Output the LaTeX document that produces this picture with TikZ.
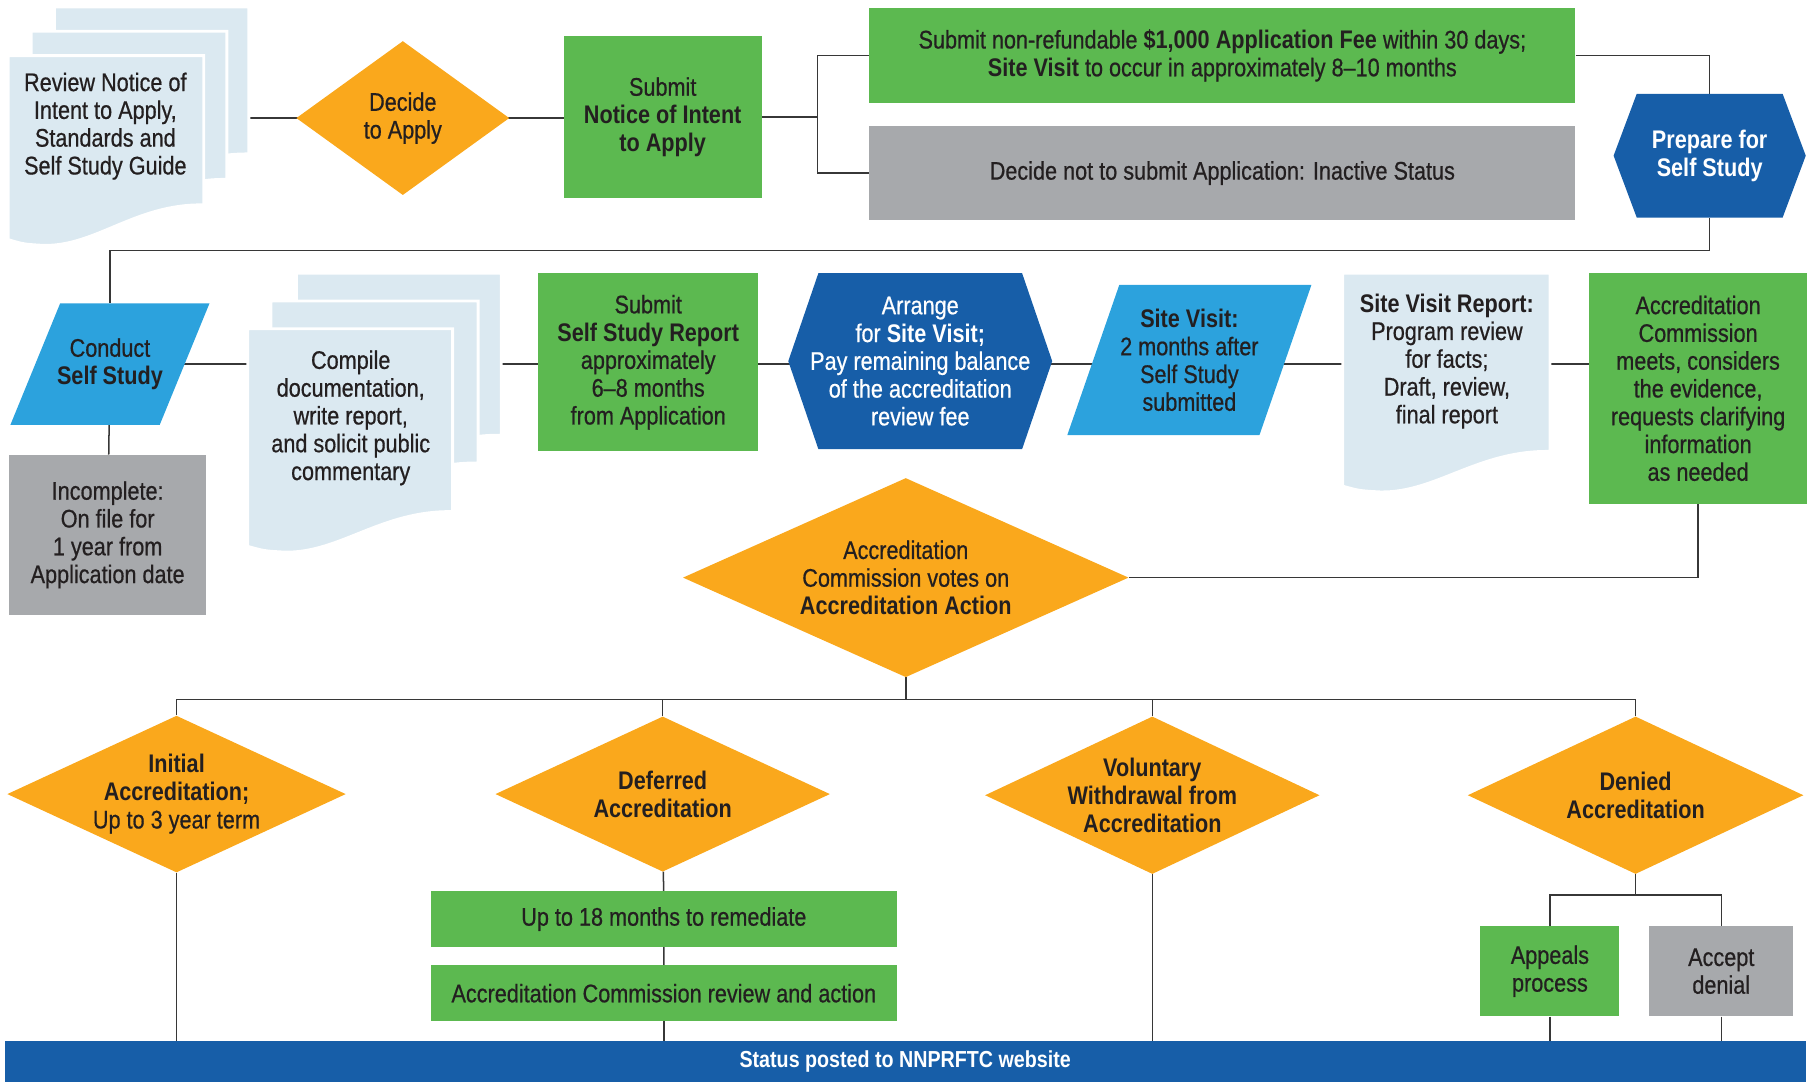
\documentclass[tikz,border=0pt]{standalone}
\usepackage{fontspec}
\setmainfont{Liberation Sans}[FakeStretch=0.85, UprightFeatures={FakeBold=0.6}]
\usetikzlibrary{shapes.geometric,backgrounds}
\definecolor{orng}{RGB}{250,168,28}
\definecolor{grn}{RGB}{92,185,80}
\definecolor{gry}{RGB}{167,169,172}
\definecolor{docblue}{RGB}{219,233,241}
\definecolor{cyn}{RGB}{44,162,221}
\definecolor{dblue}{RGB}{23,94,168}
\definecolor{txt}{RGB}{35,31,32}
\definecolor{wirecol}{RGB}{55,55,55}
\tikzstyle{box}=[rectangle, align=center, inner sep=0pt, text=txt]
\tikzstyle{greenbox}=[box, fill=grn]
\tikzstyle{graybox}=[box, fill=gry]
\tikzstyle{choice}=[diamond, fill=orng, align=center, inner sep=0pt, text=txt]
\tikzstyle{wire}=[draw=wirecol, line width=1.3pt]
\tikzset{hexa/.style={box, text=white, path picture={
  \fill[dblue] ([xshift=#1]path picture bounding box.north west) -- ([xshift=-#1]path picture bounding box.north east)
    -- (path picture bounding box.east) -- ([xshift=-#1]path picture bounding box.south east)
    -- ([xshift=#1]path picture bounding box.south west) -- (path picture bounding box.west) -- cycle;}}}
\tikzset{slant/.style={box, path picture={
  \fill[cyn] ([xshift=#1]path picture bounding box.north west) -- (path picture bounding box.north east)
    -- ([xshift=-#1]path picture bounding box.south east) -- (path picture bounding box.south west) -- cycle;}}}
% one sheet of a document stack: left x, top y, right x, bottom y at the left
\newcommand{\docpage}[4]{%
  \fill[docblue, draw=white, line width=2.5pt] (#1,#2) -- (#3,#2) -- (#3,#4-30)
    .. controls ({#3-0.35*(#3-#1)},#4-31) and ({#1+0.45*(#3-#1)},#4+6) .. ({#1+0.18*(#3-#1)},#4+5)
    .. controls ({#1+0.08*(#3-#1)},#4+4) .. (#1,#4) -- cycle;}

\begin{document}
\begin{tikzpicture}[x=1pt, y=-1pt, font=\fontsize{22}{24}\selectfont]
\useasboundingbox (0,0) rectangle (1568,935);

% document stacks
\docpage{47}{6}{215}{163}
\docpage{27}{27}{196}{185}
\docpage{7}{48}{176}{207}
\docpage{256}{236}{433}{406}
\docpage{234}{260}{413}{430}
\docpage{214}{284}{391}{472}
\docpage{1160}{236}{1339}{420}

% first row
\node[box, minimum width=169pt] (review) at (91,109) {Review Notice of\\Intent to Apply,\\Standards and\\Self Study Guide};
\node[choice, aspect=1.38, minimum width=184pt, minimum height=133pt] (decide) at (348,102) {Decide\\to Apply};
\node[greenbox, minimum width=171pt, minimum height=140pt] (notice) at (572.5,101) {Submit\\\textbf{Notice of Intent}\\\textbf{to Apply}};
\node[greenbox, minimum width=610pt, minimum height=82pt] (fee) at (1056,48) {Submit non-refundable \textbf{\$1,000 Application Fee} within 30 days;\\\textbf{Site Visit} to occur in approximately 8–10 months};
\node[graybox, minimum width=610pt, minimum height=81pt] (inactive) at (1056,149.5) {Decide not to submit Application: Inactive Status};
\node[hexa=20pt, minimum width=166pt, minimum height=107pt] (prep) at (1477,134.5) {\textbf{Prepare for}\\\textbf{Self Study}};

% second row
\node[slant=43pt, minimum width=172pt, minimum height=105pt] (conduct) at (95,314.5) {Conduct\\\textbf{Self Study}};
\node[graybox, minimum width=170pt, minimum height=138pt] (incomplete) at (93,462) {Incomplete:\\On file for\\1 year from\\Application date};
\node[box, minimum width=177pt] (compile) at (303,361) {Compile\\documentation,\\write report,\\and solicit public\\commentary};
\node[greenbox, minimum width=190pt, minimum height=154pt] (submitrep) at (560,313) {Submit\\\textbf{Self Study Report}\\approximately\\6–8 months\\from Application};
\node[hexa=26pt, minimum width=228pt, minimum height=152pt] (arrange) at (795,312) {Arrange\\for \textbf{Site Visit;}\\Pay remaining balance\\of the accreditation\\review fee};
\node[slant=45pt, minimum width=211pt, minimum height=130pt] (sitevisit) at (1027.5,311) {\textbf{Site Visit:}\\2 months after\\Self Study\\submitted};
\node[box, minimum width=179pt] (report) at (1250,312) {\textbf{Site Visit Report:}\\Program review\\for facts;\\Draft, review,\\final report};
\node[greenbox, minimum width=188pt, minimum height=199pt] (meets) at (1467,335.5) {Accreditation\\Commission\\meets, considers\\the evidence,\\requests clarifying\\information\\as needed};

% vote and outcomes
\node[choice, aspect=2.24, minimum width=385pt, minimum height=172pt] (votes) at (782.5,499) {Accreditation\\Commission votes on\\\textbf{Accreditation Action}};
\node[choice, aspect=2.16, minimum width=289pt, minimum height=134pt] (initial) at (152.5,686) {\textbf{Initial}\\\textbf{Accreditation;}\\Up to 3 year term};
\node[choice, aspect=2.16, minimum width=289pt, minimum height=134pt] (deferred) at (572.5,686) {\textbf{Deferred}\\\textbf{Accreditation}};
\node[choice, aspect=2.13, minimum width=289pt, minimum height=136pt] (voluntary) at (995.5,687) {\textbf{Voluntary}\\\textbf{Withdrawal from}\\\textbf{Accreditation}};
\node[choice, aspect=2.13, minimum width=290pt, minimum height=136pt] (denied) at (1413,687) {\textbf{Denied}\\\textbf{Accreditation}};
\node[greenbox, minimum width=403pt, minimum height=48pt] (remediate) at (573.5,794) {Up to 18 months to remediate};
\node[greenbox, minimum width=403pt, minimum height=48pt] (crreview) at (573.5,858) {Accreditation Commission review and action};
\node[greenbox, minimum width=120pt, minimum height=78pt] (appeals) at (1339,839) {Appeals\\process};
\node[graybox, minimum width=124pt, minimum height=78pt] (accept) at (1487,839) {Accept\\denial};
\node[box, fill=dblue, text=white, minimum width=1556pt, minimum height=36pt, font=\fontsize{20}{22}\selectfont\bfseries] (banner) at (782,917) {Status posted to NNPRFTC website};

\begin{scope}[on background layer]
\foreach \a/\b in {review/decide, decide/notice}
  \draw[wire] (\a |- decide) -- (\b |- decide);
\draw[wire] (notice) -- ([xshift=48pt]notice.east) |- (fee);
\draw[wire] ([xshift=48pt]notice.east) |- (inactive);
\draw[wire] (fee) -| (prep);
\draw[wire] (prep) -- ([yshift=-28pt]prep.south) -| (conduct);
\draw[wire] (conduct) -- (incomplete);
\foreach \a/\b in {conduct/compile, compile/submitrep, submitrep/arrange, arrange/sitevisit, sitevisit/report, report/meets}
  \draw[wire] (\a |- conduct) -- (\b |- conduct);
\draw[wire] (meets) |- (votes);
\foreach \d in {initial, deferred, voluntary, denied}
  \draw[wire] (votes) -- ([yshift=-19pt]votes.south) -| (\d);
\draw[wire] (deferred) -- (remediate) -- (crreview);
\foreach \d in {initial, voluntary, crreview, appeals, accept}
  \draw[wire] (\d) -- (\d |- banner);
\draw[wire] (denied) -- ([yshift=-18pt]denied.south) -| (appeals);
\draw[wire] ([yshift=-18pt]denied.south) -| (accept);
\end{scope}
\end{tikzpicture}
\end{document}
